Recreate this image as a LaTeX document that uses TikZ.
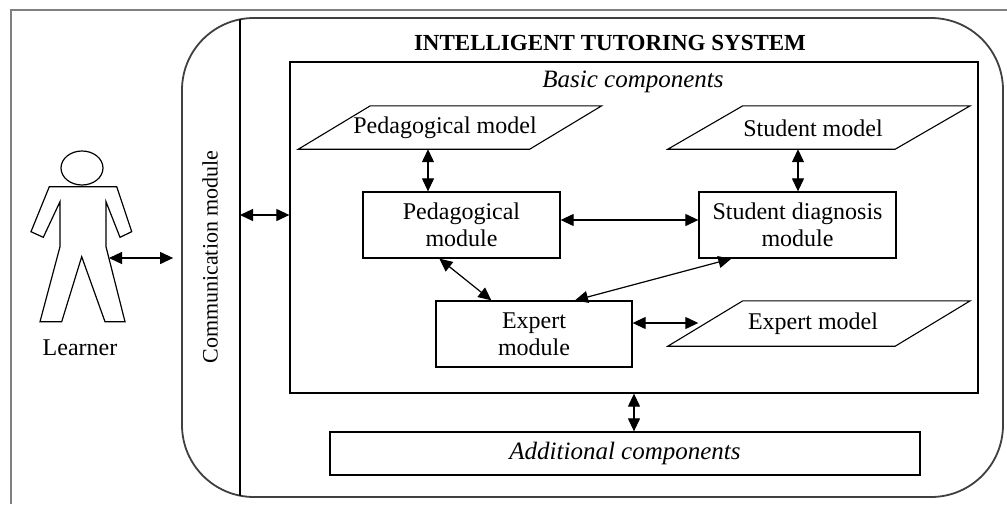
\documentclass[tikz,border=0pt]{standalone}
\usepackage{fontspec}
\setmainfont{Liberation Serif}
\usetikzlibrary{arrows.meta,calc}
\begin{document}
\begin{tikzpicture}[x=1pt,y=-1pt,
  box/.style={draw,line width=1.3pt,inner sep=0pt,align=center,font=\fontsize{24}{27}\selectfont},
  txt/.style={inner sep=0pt,font=\fontsize{24}{27}\selectfont},
  para/.style={inner sep=0pt,font=\fontsize{24}{27}\selectfont},
  arr/.style={line width=1.2pt,{Triangle[length=13pt,width=12pt]}-{Triangle[length=13pt,width=12pt]}}]
\useasboundingbox (0,0) rectangle (1007,504);
\fill[white] (0,0) rectangle (1007,504);
% outer frame
\draw[black!50,line width=1.2pt] (11,504) -- (11,10) -- (1007,10);
% ITS rounded container
\node[draw=black!75,line width=1.8pt,rounded corners=72pt,minimum width=821pt,minimum height=479pt,inner sep=0pt] (its) at (592.5,257.5) {};
\begin{scope}
\clip[rounded corners=72pt] (182,18) rectangle (1003,497);
\draw[line width=1.2pt] (240,0) -- (240,504);
\end{scope}
\coordinate (commL) at (240,215);
\node[txt,rotate=90,font=\fontsize{22}{24}\selectfont] (comm) at (210,257) {Communication module};
\node[txt,font=\fontsize{23}{26}\selectfont\bfseries] (title) at (610,43) {INTELLIGENT TUTORING SYSTEM};
% basic components
\node[box,minimum width=688pt,minimum height=331pt] (basic) at (634,227.5) {};
\node[txt,font=\fontsize{25}{27}\selectfont\itshape] (basicT) at (633,82) {Basic components};
% parallelograms
\node[para,minimum width=231pt,minimum height=43pt] (pm) at (450,127.5) {};
\node[txt] (pmT) at (445,128) {Pedagogical model};
\draw[line width=1.1pt] ([xshift=-36pt]pm.south west) -- ([xshift=36pt]pm.north west) -- ([xshift=36pt]pm.north east) -- ([xshift=-36pt]pm.south east) -- cycle;
\node[para,minimum width=227pt,minimum height=43pt] (sm) at (819,127.5) {};
\node[txt] (smT) at (813,128) {Student model};
\draw[line width=1.1pt] ([xshift=-37.5pt]sm.south west) -- ([xshift=37.5pt]sm.north west) -- ([xshift=37.5pt]sm.north east) -- ([xshift=-37.5pt]sm.south east) -- cycle;
\node[para,minimum width=227pt,minimum height=45pt] (em) at (819,323.5) {};
\node[txt] (emT) at (813,324) {Expert model};
\draw[line width=1.1pt] ([xshift=-37.5pt]em.south west) -- ([xshift=37.5pt]em.north west) -- ([xshift=37.5pt]em.north east) -- ([xshift=-37.5pt]em.south east) -- cycle;
% modules
\node[box,minimum width=197pt,minimum height=66pt] (pmod) at (461.5,225) {Pedagogical\\module};
\node[box,minimum width=197pt,minimum height=66pt] (sdm) at (797.5,225) {Student diagnosis\\module};
\node[box,minimum width=196pt,minimum height=66pt] (emod) at (534,334) {Expert\\module};
% additional
\node[box,minimum width=590pt,minimum height=43pt,font=\fontsize{25}{27}\selectfont\itshape] (add) at (625,453.5) {Additional components};
% learner
\begin{scope}[line width=1.2pt]
\draw (82,168) ellipse [x radius=21pt,y radius=17pt];
\draw (49.3,186.7) -- (31,231.7) -- (43.3,237.3) -- (60,201.7) -- (60,246.7) -- (40,321.7) -- (61.7,321.7) -- (81.7,256.7) -- (105,321.7) -- (125,321.7) -- (106,246.7) -- (106,201.7) -- (120,237.3) -- (131.7,231.7) -- (116.7,186.7) -- cycle;
\end{scope}
\coordinate (learnerR) at (109,258);
\node[txt] (learnerT) at (80,348) {Learner};
% connectors
\draw[arr] (learnerR) -- ([xshift=-8pt]learnerR -| its.west);
\draw[arr] (commL) -- (commL -| basic.west);
\draw[arr] ([xshift=-22pt]pm.south) -- ([xshift=-22pt]pm.south |- pmod.north);
\draw[arr] ([xshift=-21pt]sm.south) -- ([xshift=-21pt]sm.south |- sdm.north);
\draw[arr] ([yshift=5pt]pmod.east) -- ([yshift=5pt]sdm.west);
\draw[arr] ([xshift=77pt]pmod.south west) -- ([xshift=56pt]emod.north west);
\draw[arr] ([xshift=33pt]sdm.south west) -- ([xshift=41pt]emod.north);
\draw[arr] ([yshift=11pt]emod.east) -- ([yshift=11pt,xshift=-7pt]emod.east -| em.west);
\draw[arr] (basic.south) -- (basic.south |- add.north);
\end{tikzpicture}
\end{document}
